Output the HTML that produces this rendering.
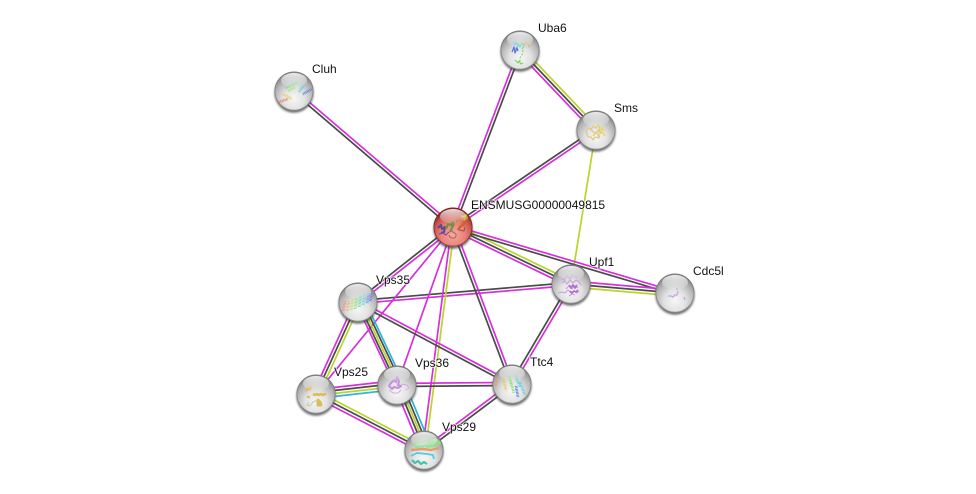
<!DOCTYPE html>
<html><head><meta charset="utf-8"><style>
html,body{margin:0;padding:0;background:#fff}
svg{display:block}
text{font-family:"Liberation Sans",sans-serif;font-size:12px;fill:#111;paint-order:stroke;stroke:rgba(255,255,255,.65);stroke-width:2px}
.m,.k,.y,.c{fill:none;stroke-width:1.7}
.m{stroke:#d62fdc}.k{stroke:#4a4a4a}.y{stroke:#b9d42a}.c{stroke:#2cb6dc}
.p{fill:none;stroke-linejoin:round}
</style></head><body>
<svg width="976" height="494" viewBox="0 0 976 494" xmlns="http://www.w3.org/2000/svg">
<defs>
<radialGradient id="gb" cx="50%" cy="70%" r="62%"><stop offset="0" stop-color="#f6f6f6"/><stop offset=".45" stop-color="#e2e2e2"/><stop offset=".8" stop-color="#b4b4b4"/><stop offset="1" stop-color="#8a8a8a"/></radialGradient>
<radialGradient id="rb" cx="50%" cy="70%" r="62%"><stop offset="0" stop-color="#f8a8a2"/><stop offset=".5" stop-color="#e8827c"/><stop offset=".82" stop-color="#c4504a"/><stop offset="1" stop-color="#8a2824"/></radialGradient>
<linearGradient id="hl" x1="0" y1="0" x2="0" y2="1"><stop offset="0" stop-color="#fff" stop-opacity=".85"/><stop offset="1" stop-color="#fff" stop-opacity=".05"/></linearGradient>
<filter id="bl" x="-30%" y="-30%" width="160%" height="160%"><feGaussianBlur stdDeviation="1.1"/></filter>
<filter id="pb" x="-20%" y="-20%" width="140%" height="140%"><feGaussianBlur stdDeviation=".35"/></filter>
<g id="ball"><circle cx="0" cy="2.2" r="19.5" fill="#3c3c3c" opacity=".75" filter="url(#bl)"/><circle r="19.5" fill="url(#gb)"/><circle r="19.1" fill="none" stroke="#6e6e6e" stroke-width=".8" opacity=".7"/></g>
<g id="redball"><circle cx="0" cy="2.2" r="19.5" fill="#3c3c3c" opacity=".75" filter="url(#bl)"/><circle r="19.5" fill="url(#rb)"/><circle r="19.1" fill="none" stroke="#74201c" stroke-width=".8" opacity=".8"/></g>
<g id="gloss"><ellipse cx="0" cy="-10.5" rx="13" ry="7.5" fill="url(#hl)"/></g>
</defs>
<rect width="976" height="494" fill="#fff"/>

<g>
<!-- Cluh-ENS -->
<line class="m" x1="295" y1="89.9" x2="454" y2="225.9"/><line class="k" x1="293" y1="92.1" x2="452" y2="228.1"/>
<!-- ENS-Uba6 -->
<line class="k" x1="454.4" y1="227.5" x2="521.4" y2="50.5"/><line class="m" x1="451.6" y1="226.5" x2="518.6" y2="49.5"/>
<!-- ENS-Sms -->
<line class="m" x1="453.8" y1="228.2" x2="596.8" y2="131.2"/><line class="k" x1="452.2" y1="225.8" x2="595.2" y2="128.8"/>
<!-- Uba6-Sms -->
<line class="y" x1="522.2" y1="48" x2="598.2" y2="128"/><line class="k" x1="520" y1="50" x2="596" y2="130"/><line class="m" x1="517.8" y1="52" x2="593.8" y2="132"/>
<!-- Sms-Upf1 -->
<line class="y" x1="596" y1="130" x2="571" y2="284"/>
<!-- ENS-Upf1 -->
<line class="y" x1="454.3" y1="224.3" x2="572.3" y2="281.3"/><line class="k" x1="453" y1="227" x2="571" y2="284"/><line class="m" x1="451.7" y1="229.7" x2="569.7" y2="286.7"/>
<!-- ENS-Cdc5l -->
<line class="m" x1="453.4" y1="225.6" x2="675.4" y2="291.6"/><line class="k" x1="452.6" y1="228.4" x2="674.6" y2="294.4"/>
<!-- Upf1-Cdc5l -->
<line class="m" x1="571" y1="281" x2="675" y2="290"/><line class="k" x1="571" y1="284" x2="675" y2="293"/><line class="y" x1="571" y1="287" x2="675" y2="296"/>
<!-- Upf1-Ttc4 -->
<line class="m" x1="572.3" y1="284.8" x2="513.3" y2="384.8"/><line class="k" x1="569.7" y1="283.2" x2="510.7" y2="383.2"/>
<!-- Upf1-Vps35 -->
<line class="k" x1="571" y1="282.5" x2="358" y2="300.5"/><line class="m" x1="571" y1="285.5" x2="358" y2="303.5"/>
<!-- ENS-Ttc4 -->
<line class="m" x1="454.4" y1="226.5" x2="513.4" y2="383.5"/><line class="k" x1="451.6" y1="227.5" x2="510.6" y2="384.5"/>
<!-- ENS-Vps35 -->
<line class="m" x1="453.9" y1="228.2" x2="358.9" y2="303.2"/><line class="k" x1="452.1" y1="225.8" x2="357.1" y2="300.8"/>
<!-- ENS-Vps25 -->
<line class="m" x1="453" y1="227" x2="316" y2="394"/>
<!-- ENS-Vps36 -->
<line class="m" x1="453" y1="227" x2="397" y2="385"/>
<!-- ENS-Vps29 -->
<line class="m" x1="451.5" y1="227" x2="422.5" y2="450"/><line class="y" x1="454.5" y1="227" x2="425.5" y2="450"/>
<!-- Vps35-Ttc4 -->
<line class="m" x1="358.7" y1="300.7" x2="512.7" y2="382.7"/><line class="k" x1="357.3" y1="303.3" x2="511.3" y2="385.3"/>
<!-- Vps35-Vps25 -->
<line class="y" x1="360.7" y1="303.2" x2="318.7" y2="395.2"/><line class="k" x1="358" y1="302" x2="316" y2="394"/><line class="m" x1="355.3" y1="300.8" x2="313.3" y2="392.8"/>
<!-- Vps35-Vps36 -->
<line class="m" x1="355.5" y1="302" x2="394.5" y2="385"/><line class="k" x1="358" y1="302" x2="397" y2="385"/><line class="y" x1="360.5" y1="302" x2="399.5" y2="385"/><line class="k" x1="363" y1="302" x2="402" y2="385"/><line class="c" x1="365.5" y1="302" x2="404.5" y2="385"/>
<!-- Vps36-Vps29 -->
<line class="m" x1="394" y1="385" x2="421" y2="450"/><line class="k" x1="397.5" y1="385" x2="424.5" y2="450"/><line class="y" x1="400" y1="385" x2="427" y2="450"/><line class="k" x1="402.5" y1="385" x2="429.5" y2="450"/><line class="c" x1="405.5" y1="385" x2="432.5" y2="450"/>
<!-- Vps36-Ttc4 -->
<line class="m" x1="397" y1="383.4" x2="512" y2="382.4"/><line class="k" x1="397" y1="386.5" x2="512" y2="385.5"/>
<!-- Vps25-Vps36 -->
<line class="m" x1="316" y1="389.5" x2="397" y2="380.5"/><line class="k" x1="316" y1="392.5" x2="397" y2="383.5"/><line class="y" x1="316" y1="395.5" x2="397" y2="386.5"/><line class="c" x1="316" y1="398.5" x2="397" y2="389.5"/>
<!-- Vps25-Vps29 -->
<line class="y" x1="317.4" y1="391.3" x2="425.4" y2="447.3"/><line class="k" x1="316" y1="394" x2="424" y2="450"/><line class="m" x1="314.6" y1="396.7" x2="422.6" y2="452.7"/>
<!-- Ttc4-Vps29 -->
<line class="m" x1="511.1" y1="382.8" x2="423.1" y2="448.8"/><line class="k" x1="512.9" y1="385.2" x2="424.9" y2="451.2"/>
</g>

<!-- Cluh -->
<g transform="translate(294,91)"><use href="#ball"/>
<g class="p" stroke-width="2.6" stroke-dasharray=".8 .7" filter="url(#pb)"><path stroke="#6fe07c" d="M-8-3L4-9"/><path stroke="#a8e070" d="M-6 0L1-4"/><path stroke="#60d0d8" d="M5 1L11-7"/><path stroke="#5a80e0" d="M9 3L18-2"/><path stroke="#e4d060" d="M-11 3L-2 8"/><path stroke="#e88060" d="M-15 11L-6 8"/></g><use href="#gloss"/></g>
<!-- Uba6 -->
<g transform="translate(520,50)"><use href="#ball"/>
<g class="p" stroke-width="1.2" filter="url(#pb)"><path stroke="#78c4ec" d="M-7-8l2 3 1-3 2 4-3 3 3 1"/><path stroke="#6070d8" d="M-8 2l2-5 1 6 2-5 1 3"/><path stroke="#70dcb0" d="M-2-7l2 4 2-4 2 3-2 3"/><path stroke="#e4b468" d="M3-7l2 2 1-3 2 2 1 3"/><path stroke="#78dc68" stroke-dasharray="2 1.5" d="M3 0l-1 5-2 3 0 3"/><path stroke="#70dc60" d="M-5 10l3 3 1-2 2 3 2-1"/></g><use href="#gloss"/></g>
<!-- Sms -->
<g transform="translate(596,130)"><use href="#ball"/>
<g class="p" stroke-width="1.3" filter="url(#pb)"><path stroke="#dccc88" d="M-10 1l3-3 2 2 2-4 3 2 2-3 2 3-2 3 3 2-3 2 1 3-4-1-2 3-2-3-3 0zM-6-2l5 6 5-6M-3 6l3-4 4 5"/><path stroke="#e4d458" d="M1-6l3 3-1 4 4 2 2 3M4 3l2-5 2 3"/></g><use href="#gloss"/></g>
<!-- ENS -->
<g transform="translate(453,227)"><use href="#redball"/>
<g class="p" filter="url(#pb)"><path stroke="#584898" stroke-width="2" d="M-15 1l3-3 1 4 3-2-1 5-3 1"/><path stroke="#884898" stroke-width="1.2" d="M-14 7l4-1 3 2 3-3"/><path stroke="#7c8c40" stroke-width="2.3" d="M-7 2l2-5 3 1 1-3 2 1-2 5-2 4"/><path stroke="#a06848" stroke-width="1" d="M-4 8c1 4 6 4 7 1s-3-3-4-5"/><path stroke="#d0602c" stroke-width="2.3" d="M3-5l3-3 2 2 2-3 2 2-1 4-4 3-2 3"/><path stroke="#c8a828" stroke-width="2" d="M8-11l3 1 2-2 1 3-3 2"/><path stroke="#a05040" stroke-width="1" d="M6 3l5 1 1-4"/></g><use href="#gloss"/></g>
<!-- Upf1 -->
<g transform="translate(571,284)"><use href="#ball"/>
<g class="p" filter="url(#pb)"><path stroke="#c8a0dc" stroke-width="1.1" d="M-11-7l4 3 3-4 3 3 3-4 3 3 3-2M-9-1l3-2 2 3 3-4 3 3 3-3 3 2 2 3M-5 5l3-3 3 3 3-3 3 2M-13 9l4-1 3 1 3-3 3 3 3-2 3 2 2-2M-2 12l3-2 3 1"/><path stroke="#b070d0" stroke-width="1.8" d="M-2 1l2 3 2-3 2 3 2-3M-1 7l2 2 2-2 2 1 2-2"/></g><use href="#gloss"/></g>
<!-- Cdc5l -->
<g transform="translate(675,293)"><use href="#ball"/>
<g class="p" stroke-width="1.3" stroke="#c8a4dc" filter="url(#pb)"><path d="M-7 3l3 0 2 1 2-2 2 0 1-4"/><path d="M9 4l1 3M2-5l0 2"/></g><use href="#gloss"/></g>
<!-- Vps35 -->
<g transform="translate(358,302)"><use href="#ball"/>
<g class="p" stroke-width="3" stroke-dasharray=".8 .7" filter="url(#pb)"><path stroke="#ec9488" d="M-15 9L-13-1"/><path stroke="#e8b878" d="M-11 9L-9-1"/><path stroke="#c8dc78" d="M-7 8L-5-3"/><path stroke="#90e080" d="M-3 7L-1-5"/><path stroke="#70dca8" d="M1 5L3-7"/><path stroke="#70d0d8" d="M5 3L7-9"/><path stroke="#70a0e4" d="M9 1L11-9"/><path stroke="#7880e4" d="M12-1L15-9"/></g><use href="#gloss"/></g>
<!-- Vps36 -->
<g transform="translate(397,385)"><use href="#ball"/>
<g class="p" filter="url(#pb)"><path stroke="#c490dc" stroke-width="2" d="M-6-2l3-3 2 2 1-5 2 4-1 4 3 1-3 2-4-1-2 2-3-3z"/><path stroke="#ccb0dc" stroke-width="1" d="M-8 5l4 3 5 0 3-3M4-1l6 1 2 3-3 2"/></g><use href="#gloss"/></g>
<!-- Vps25 -->
<g transform="translate(316,394)"><use href="#ball"/>
<g class="p" filter="url(#pb)"><path stroke="#dcbc58" stroke-width="2.4" d="M-10-3l2-3 2 1 1-3M-3 0l2 1 2-1 2 1 2-1 2 1 2-1 1 1"/><path stroke="#dcbc58" stroke-width="3" d="M2 6l2 2 1 3-3 0zM-7 2l-1 2"/><path stroke="#c8c8a8" stroke-width="1" d="M-7 8l-2 3 3 1 3-4 5-2"/></g><use href="#gloss"/></g>
<!-- Ttc4 -->
<g transform="translate(512,384)"><use href="#ball"/>
<g class="p" stroke-width="2.6" stroke-dasharray=".8 .7" filter="url(#pb)"><path stroke="#ec9870" d="M-15-6L-16 2"/><path stroke="#e4cc50" d="M-9-6L-6 6"/><path stroke="#80dc68" d="M-3-8L2 9"/><path stroke="#60d0d0" d="M3-9L8 3"/><path stroke="#4c78dc" d="M4 2L6 13"/><path stroke="#60ccdc" d="M8-2L13 11"/></g><use href="#gloss"/></g>
<!-- Vps29 -->
<g transform="translate(424,450)"><use href="#ball"/>
<g class="p" filter="url(#pb)"><path stroke="#98dc88" stroke-width="2" d="M-11-5l10-6 6 2 8-1 3 3-5 3-9 1"/><path stroke="#e89c68" stroke-width="2.4" d="M-13 0l12-1 8 1 8-2"/><path stroke="#90e498" stroke-width="2.4" d="M-9-3l10-1 12-4"/><path stroke="#50cce4" stroke-width="1.8" d="M-13 6l6-3 10 1 6 1 1 4"/><path stroke="#40c4ac" stroke-width="2.2" d="M-12 10l3 3 3-2 3 3 3-2 3 2"/></g><use href="#gloss"/></g>

<!-- labels -->
<text x="312" y="73">Cluh</text>
<text x="538" y="32">Uba6</text>
<text x="614" y="112">Sms</text>
<text x="471" y="209">ENSMUSG00000049815</text>
<text x="589" y="266">Upf1</text>
<text x="693" y="275">Cdc5l</text>
<text x="376" y="284">Vps35</text>
<text x="415" y="367">Vps36</text>
<text x="334" y="376">Vps25</text>
<text x="530" y="366">Ttc4</text>
<text x="442" y="431">Vps29</text>
</svg>
</body></html>
